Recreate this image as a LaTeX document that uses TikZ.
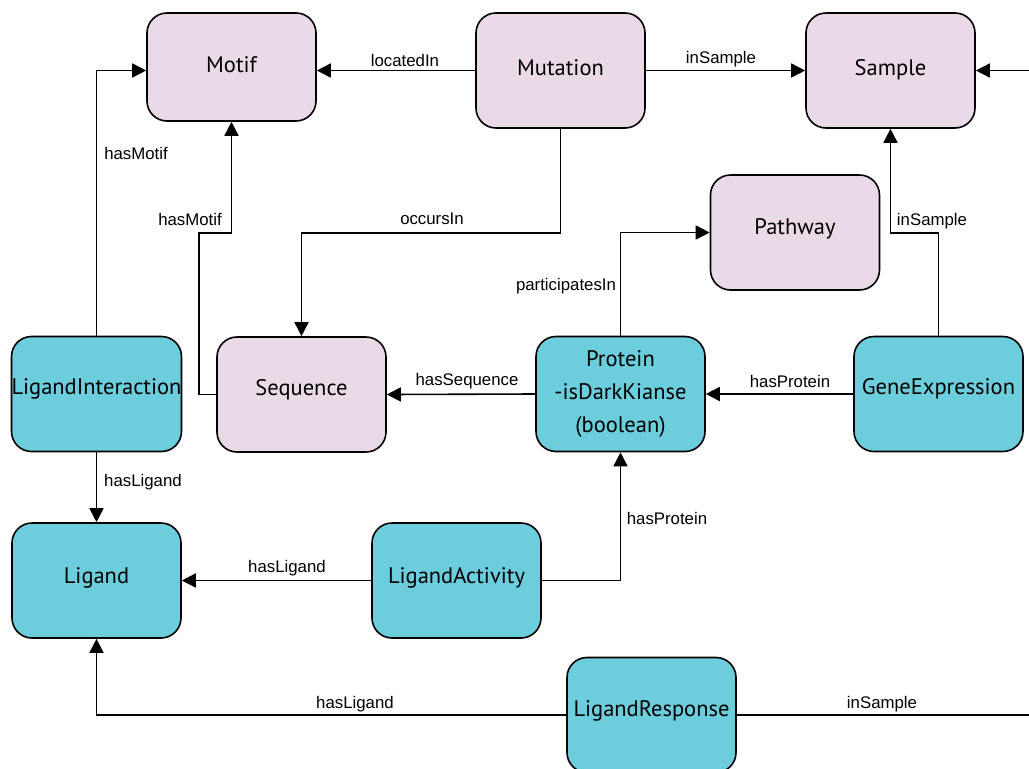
\documentclass[tikz,border=0pt]{standalone}
\usepackage{fontspec}
\setmainfont{Liberation Sans}
\newfontfamily\nodefont{PT Sans}
\usetikzlibrary{arrows.meta}
\definecolor{pinkfill}{RGB}{234,218,232}
\definecolor{tealfill}{RGB}{108,205,220}
\tikzset{
  box/.style={draw=black, line width=1.6pt, rounded corners=20pt, minimum width=169pt, minimum height=115pt, inner sep=0pt, align=center, font=\nodefont\fontsize{22.5}{33}\selectfont},
  pinkbox/.style={box, fill=pinkfill},
  tealbox/.style={box, fill=tealfill},
  tup/.style={text height=16pt, text depth=#1},
  conn/.style={draw=black, line width=1.6pt, -{Triangle[length=14pt,width=14pt]}},
  plain/.style={draw=black, line width=1.6pt},
  lab/.style={font=\fontsize{16.8}{20}\selectfont, inner sep=0pt}
}
\begin{document}
\begin{tikzpicture}[x=1pt,y=-1pt]
\useasboundingbox[fill=white] (0,0) rectangle (1029,769);
% nodes
\node[pinkbox, tup=5pt, minimum height=108pt] (motif) at (231.5,67) {Motif};
\node[pinkbox, tup=6pt] (mut) at (560.5,70.5) {Mutation};
\node[pinkbox, tup=6pt] (sample) at (890.5,70.5) {Sample};
\node[pinkbox, tup=12pt] (path) at (795,232.5) {Pathway};
\node[tealbox, tup=15pt] (li) at (96.5,394) {LigandInteraction};
\node[pinkbox, tup=15pt] (seq) at (301.5,394.5) {Sequence};
\node[tealbox] (prot) at (620.5,394) {Protein\\-isDarkKianse\\(boolean)};
\node[tealbox, tup=15pt] (ge) at (938.5,394) {GeneExpression};
\node[tealbox, tup=10pt] (lig) at (96.5,580.5) {Ligand};
\node[tealbox, tup=10pt] (la) at (456.5,580.5) {LigandActivity};
\node[tealbox, tup=13pt] (lr) at (651.5,715) {LigandResponse};
% helper coordinates
\coordinate (y233) at (0,233);
\coordinate (bend1) at (199,233);
\coordinate (rightA) at (1029,70.5);
\coordinate (rightB) at (1029,715);
% connectors
\draw[conn] (mut.west) -- (mut.west -| motif.east);
\draw[conn] (mut.east) -- (sample.west);
\draw[conn] (rightA) -- (sample.east);
\draw[conn] (mut.south) |- (seq.north |- y233) -- (seq.north);
\draw[conn] (seq.west) -| (bend1) -| (motif.south);
\draw[conn] (li.north) |- (mut.west -| motif.west);
\draw[conn] (li.south) -- (lig.north);
\draw[conn] (prot.west) -- (seq.east);
\draw[conn] (ge.west) -- (prot.east);
\draw[conn] (ge.north) |- (sample.south |- y233) -- (sample.south);
\draw[conn] (prot.north) |- (path.west);
\draw[conn] (la.east) -| (prot.south);
\draw[conn] (la.west) -- (lig.east);
\draw[conn] (lr.west) -| (lig.south);
\draw[plain] (lr.east) -- (rightB);
% labels
\node[lab] (l1) at (405,60) {locatedIn};
\node[lab] (l2) at (721,59) {inSample};
\node[lab] (l3) at (432,219) {occursIn};
\node[lab] (l4) at (190,219) {hasMotif};
\node[lab] (l5) at (136,153) {hasMotif};
\node[lab] (l6) at (143,482) {hasLigand};
\node[lab] (l7) at (467,381) {hasSequence};
\node[lab] (l8) at (790,381) {hasProtein};
\node[lab] (l9) at (932,221) {inSample};
\node[lab] (l10) at (566,286) {participatesIn};
\node[lab] (l11) at (667,518) {hasProtein};
\node[lab] (l12) at (287,568) {hasLigand};
\node[lab] (l13) at (355,704) {hasLigand};
\node[lab] (l14) at (882,704) {inSample};
\end{tikzpicture}
\end{document}
